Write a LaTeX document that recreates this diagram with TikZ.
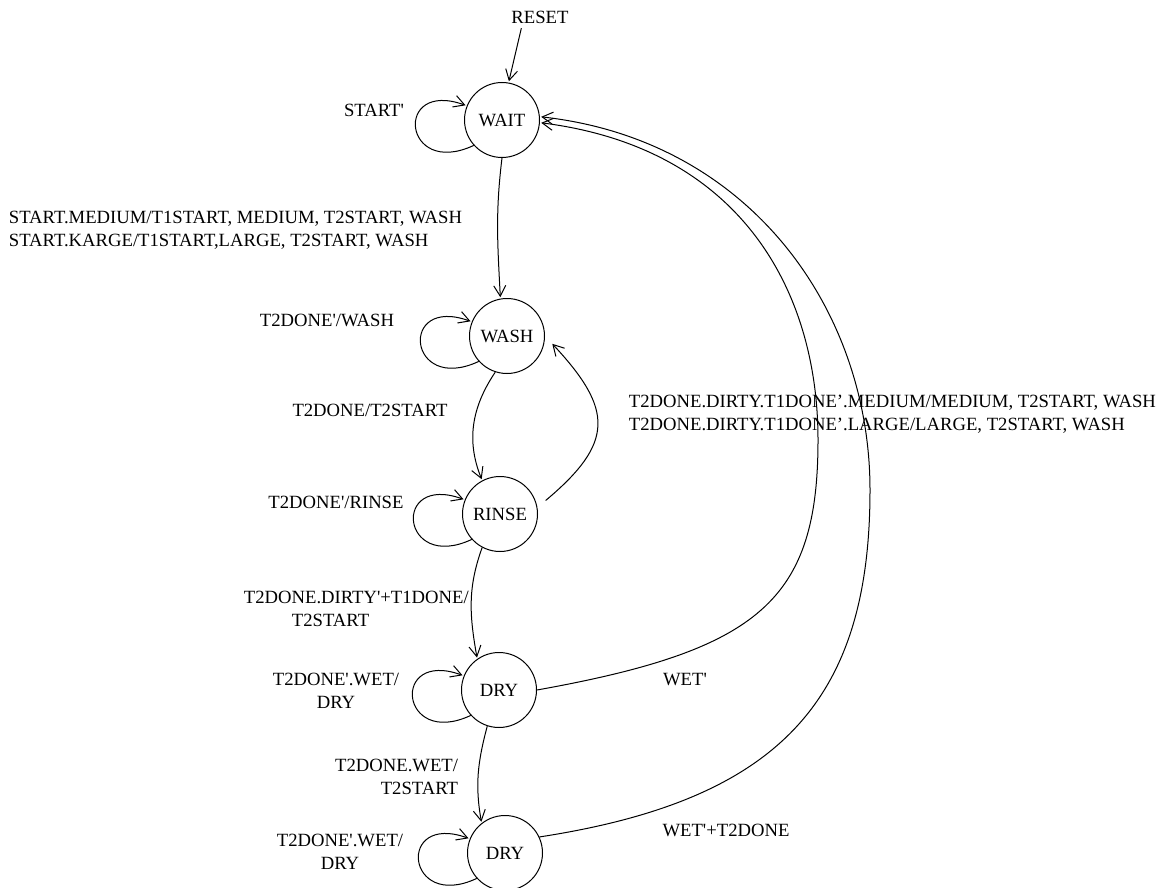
\documentclass[tikz,border=0pt]{standalone}
\usepackage{fontspec}
\setmainfont{Liberation Serif}
\usetikzlibrary{arrows.meta}
\newcommand{\prm}{\textquotesingle}
\begin{document}
\begin{tikzpicture}[x=0.75pt, y=-0.75pt, shorten >=1pt, line width=0.75pt, >={Straight Barb[length=8pt,width=9pt]},
  state node/.style={circle,draw,minimum size=56.25pt,inner sep=0pt},
  self loop/.style={out=205,in=160,looseness=5}]
\useasboundingbox (0,0) rectangle (1163,888);
\begin{scope}[every node/.style={font=\fontsize{14pt}{17pt}\selectfont}]
\node[state node] (wait) at (502,120) {WAIT};
\node[state node] (wash) at (507,336) {WASH};
\node[state node] (rinse) at (500,514) {RINSE};
\node[state node] (dry) at (499,690) {DRY};
\node[state node] (drytwo) at (505,853) {DRY};
% labels
\node (reset) at (540,17) {RESET};
\node (startlbl) at (374,110) {START\prm};
\node[anchor=west,align=left] (waitwash) at (4,230) {START.MEDIUM/T1START, MEDIUM, T2START, WASH\\START.KARGE/T1START,LARGE, T2START, WASH};
\node (washlbl) at (327,320) {T2DONE\prm/WASH};
\node (washrinse) at (370,410) {T2DONE/T2START};
\node (rinselbl) at (336,502) {T2DONE\prm/RINSE};
\node[anchor=west,align=left] (rinsewash) at (624,414) {T2DONE.DIRTY.T1DONE’.MEDIUM/MEDIUM, T2START, WASH\\T2DONE.DIRTY.T1DONE’.LARGE/LARGE, T2START, WASH};
\node[anchor=west,align=left] (rinsedry) at (239,609) {T2DONE.DIRTY\prm+T1DONE/\\\hspace*{36pt}T2START};
\node[align=center] (drylbl) at (336,691) {T2DONE\prm.WET/\\DRY};
\node[anchor=east,align=right] (drydry) at (463,777) {T2DONE.WET/\\T2START};
\node[align=center] (drytwolbl) at (340,852) {T2DONE\prm.WET/\\DRY};
\node (wetlbl) at (685,680) {WET\prm};
\node (wettwolbl) at (726,830) {WET\prm+T2DONE};
\end{scope}
\begin{scope}[every edge/.style={draw,->}]
\draw (reset.211) edge (wait.80);
\draw (wait.222) edge[self loop] (wait.158);
\draw (wait.-90) edge[out=-97,in=93] (wash.100);
\draw (wash.222) edge[self loop] (wash.158);
\draw (wash.252) edge[out=236,in=112] (rinse.118);
\draw (rinse.222) edge[self loop] (rinse.158);
\draw (rinse.10) edge[out=40,in=-47,looseness=1.5,shorten <=8pt,shorten >=8pt] (wash.0);
\draw (rinse.242) edge[out=250,in=100] (dry.125);
\draw (dry.222) edge[self loop] (dry.158);
\draw (dry.252) edge[out=255,in=100] (drytwo.128);
\draw (drytwo.222) edge[self loop] (drytwo.158);
\end{scope}
\draw[->] (dry.0) .. controls (760,650) and (818,600) .. (818,440) .. controls (818,290) and (740,148) .. (wait.-4);
\draw[->] (drytwo.25) .. controls (780,800) and (870,700) .. (870,490) .. controls (870,310) and (750,140) .. (wait.5);
\end{tikzpicture}
\end{document}
